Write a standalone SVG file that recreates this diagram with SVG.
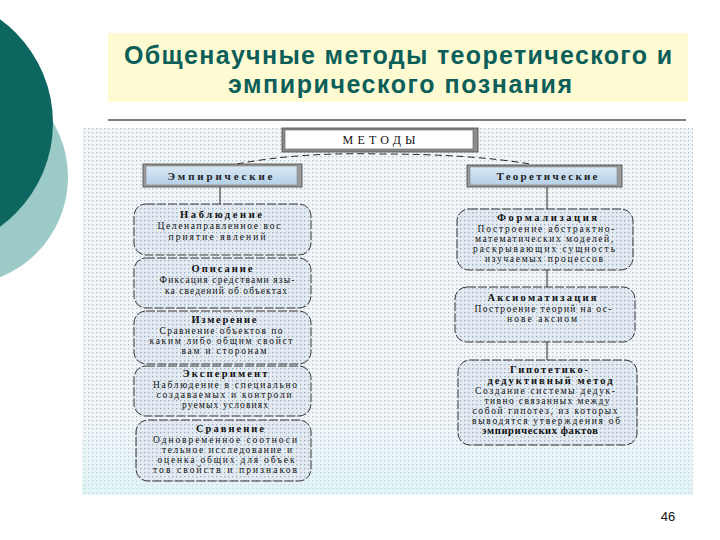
<svg xmlns="http://www.w3.org/2000/svg" width="720" height="540" viewBox="0 0 720 540">
<defs>
<pattern id="panelDots" width="4" height="4" patternUnits="userSpaceOnUse">
<rect width="4" height="4" fill="#F2F6F9"/>
<rect width="1.3" height="1.3" fill="#AFC1D0"/>
</pattern>
<pattern id="boxDots" width="4" height="4" patternUnits="userSpaceOnUse">
<rect width="4" height="4" fill="#E3EAF1"/>
<rect width="1.3" height="1.3" fill="#98AcBE"/>
</pattern>
<linearGradient id="hdrGrad" x1="0" y1="0" x2="0" y2="1">
<stop offset="0" stop-color="#D9E8F4"/>
<stop offset="1" stop-color="#B4D0E8"/>
</linearGradient>
<linearGradient id="panelFade" x1="0" y1="0" x2="0" y2="1">
<stop offset="0.8" stop-color="#D6F2F2" stop-opacity="0"/>
<stop offset="1" stop-color="#D6F2F2" stop-opacity="0.6"/>
</linearGradient>
<style>
.node{fill:url(#boxDots);stroke:#333;stroke-width:1;stroke-dasharray:9 2}
.hdrOut{fill:#9A9A9A;stroke:#444;stroke-width:0.8}
.hdrIn{fill:url(#hdrGrad);stroke:#777;stroke-width:0.5}
.t{font-family:"Liberation Serif","Times New Roman",serif;font-size:9.5px;fill:#111;text-anchor:middle}
.tb{font-family:"Liberation Serif","Times New Roman",serif;font-size:10.5px;font-weight:bold;fill:#111;text-anchor:middle}
.hdr{font-family:"Liberation Serif","Times New Roman",serif;font-size:11px;font-weight:bold;fill:#222;text-anchor:middle}
.conn{stroke:#222;stroke-width:1;fill:none}
.dash{stroke:#222;stroke-width:1;fill:none;stroke-dasharray:7 4}
.title{font-family:"Liberation Sans",Arial,sans-serif;font-size:25px;font-weight:bold;fill:#0C5E59;text-anchor:middle}
</style>
</defs>

<g id="decor">
<circle cx="-40" cy="177" r="108" fill="#9CCAC6"/>
<circle cx="-75" cy="123" r="128" fill="#0E6661"/>
</g>

<g id="title">
<rect x="108" y="33" width="580" height="69" fill="#FEFBD3"/>
<text class="title" x="398" y="64" textLength="548" lengthAdjust="spacing">Общенаучные методы теоретического и</text>
<text class="title" x="400" y="93" textLength="344" lengthAdjust="spacing">эмпирического познания</text>
<line x1="108" y1="120" x2="686" y2="120" stroke="#000" stroke-width="1.2"/>
</g>

<g id="panel">
<rect x="82" y="128" width="611" height="367" fill="url(#panelDots)"/>
<rect x="82" y="128" width="611" height="367" fill="url(#panelFade)"/>
</g>

<g id="connectors">
<path class="dash" d="M237,164 Q300,152 380,154 Q470,154 530,164"/>
<line class="conn" x1="220" y1="187" x2="220" y2="204"/>
<line class="conn" x1="547" y1="187" x2="547" y2="209"/>
<line class="conn" x1="547" y1="270" x2="547" y2="287"/>
<line class="conn" x1="547" y1="342" x2="547" y2="360"/>
</g>

<g id="methods">
<rect x="282" y="128" width="196" height="24" fill="#8E8E8E" stroke="#444" stroke-width="0.8"/>
<rect x="285" y="130" width="188" height="19" fill="#FFFFFF" stroke="#555" stroke-width="0.6"/>
<text x="379" y="144" font-family="Liberation Serif, Times New Roman, serif" font-size="12" fill="#111" text-anchor="middle" textLength="73" lengthAdjust="spacing">МЕТОДЫ</text>
</g>

<g id="empirical">
<rect class="hdrOut" x="143" y="164" width="159" height="23"/>
<rect class="hdrIn" x="146" y="166" width="151" height="19"/>
<text class="hdr" x="220" y="180" textLength="105" lengthAdjust="spacing">Эмпирические</text>
</g>

<g id="theoretical">
<rect class="hdrOut" x="467" y="165" width="155" height="22"/>
<rect class="hdrIn" x="470" y="167" width="147" height="18"/>
<text class="hdr" x="547" y="180" textLength="101" lengthAdjust="spacing">Теоретические</text>
</g>

<g id="nablyudenie">
<rect class="node" x="134" y="204" width="177" height="51" rx="12"/>
<text class="tb" x="221" y="218" textLength="82" lengthAdjust="spacing">Наблюдение</text>
<text class="t" x="219" y="229" textLength="123" lengthAdjust="spacing">Целенаправленное вос</text>
<text class="t" x="217" y="240" textLength="97" lengthAdjust="spacing">приятие явлений</text>
</g>

<g id="opisanie">
<rect class="node" x="134" y="258" width="177" height="50" rx="12"/>
<text class="tb" x="222" y="272" textLength="61" lengthAdjust="spacing">Описание</text>
<text class="t" x="227" y="283" textLength="135" lengthAdjust="spacing">Фиксация средствами язы-</text>
<text class="t" x="226" y="294" textLength="122" lengthAdjust="spacing">ка сведений об объектах</text>
</g>

<g id="izmerenie">
<rect class="node" x="134" y="311" width="177" height="53" rx="12"/>
<text class="tb" x="224" y="323" textLength="65" lengthAdjust="spacing">Измерение</text>
<text class="t" x="221" y="334" textLength="123" lengthAdjust="spacing">Сравнение объектов по</text>
<text class="t" x="221" y="344" textLength="143" lengthAdjust="spacing">каким либо общим свойст</text>
<text class="t" x="224" y="354" textLength="85" lengthAdjust="spacing">вам и сторонам</text>
</g>

<g id="eksperiment">
<rect class="node" x="134" y="366" width="177" height="50" rx="12"/>
<text class="tb" x="225" y="377" textLength="85" lengthAdjust="spacing">Эксперимент</text>
<text class="t" x="225" y="388" textLength="144" lengthAdjust="spacing">Наблюдение в специально</text>
<text class="t" x="224" y="398" textLength="135" lengthAdjust="spacing">создаваемых и контроли</text>
<text class="t" x="225" y="408" textLength="86" lengthAdjust="spacing">руемых условиях</text>
</g>

<g id="sravnenie">
<rect class="node" x="136" y="420" width="175" height="61" rx="12"/>
<text class="tb" x="230" y="432" textLength="68" lengthAdjust="spacing">Сравнение</text>
<text class="t" x="225" y="443" textLength="144" lengthAdjust="spacing">Одновременное соотноси</text>
<text class="t" x="227" y="453" textLength="130" lengthAdjust="spacing">тельное исследование и</text>
<text class="t" x="226" y="463" textLength="137" lengthAdjust="spacing">оценка общих для объек</text>
<text class="t" x="225" y="473" textLength="144" lengthAdjust="spacing">тов свойств и признаков</text>
</g>

<g id="formalizatsiya">
<rect class="node" x="457" y="209" width="176" height="61" rx="12"/>
<text class="tb" x="547" y="221" textLength="100" lengthAdjust="spacing">Формализация</text>
<text class="t" x="546" y="232" textLength="137" lengthAdjust="spacing">Построение абстрактно-</text>
<text class="t" x="544" y="242" textLength="138" lengthAdjust="spacing">математических моделей,</text>
<text class="t" x="544" y="252" textLength="142" lengthAdjust="spacing">раскрывающих сущность</text>
<text class="t" x="544" y="262" textLength="118" lengthAdjust="spacing">изучаемых процессов</text>
</g>

<g id="aksiomatizatsiya">
<rect class="node" x="455" y="287" width="180" height="55" rx="12"/>
<text class="tb" x="542" y="301" textLength="109" lengthAdjust="spacing">Аксиоматизация</text>
<text class="t" x="543" y="312" textLength="137" lengthAdjust="spacing">Построение теорий на ос-</text>
<text class="t" x="542" y="322" textLength="70" lengthAdjust="spacing">нове аксиом</text>
</g>

<g id="gipotetiko">
<rect class="node" x="458" y="360" width="179" height="85" rx="12"/>
<text class="tb" x="549" y="373" textLength="78" lengthAdjust="spacing">Гипотетико-</text>
<text class="tb" x="550" y="384" textLength="125" lengthAdjust="spacing">дедуктивный метод</text>
<text class="t" x="545" y="394" textLength="140" lengthAdjust="spacing">Создание системы дедук-</text>
<text class="t" x="547" y="404" textLength="125" lengthAdjust="spacing">тивно связанных между</text>
<text class="t" x="545" y="414" textLength="145" lengthAdjust="spacing">собой гипотез, из которых</text>
<text class="t" x="546" y="424" textLength="148" lengthAdjust="spacing">выводятся утверждения об</text>
<text class="tb" x="540" y="434" font-size="9.5" textLength="116" lengthAdjust="spacing">эмпирических фактов</text>
</g>

<g id="page">
<text x="668" y="521" font-family="Liberation Sans, Arial, sans-serif" font-size="13" fill="#111" text-anchor="middle">46</text>
</g>
</svg>
